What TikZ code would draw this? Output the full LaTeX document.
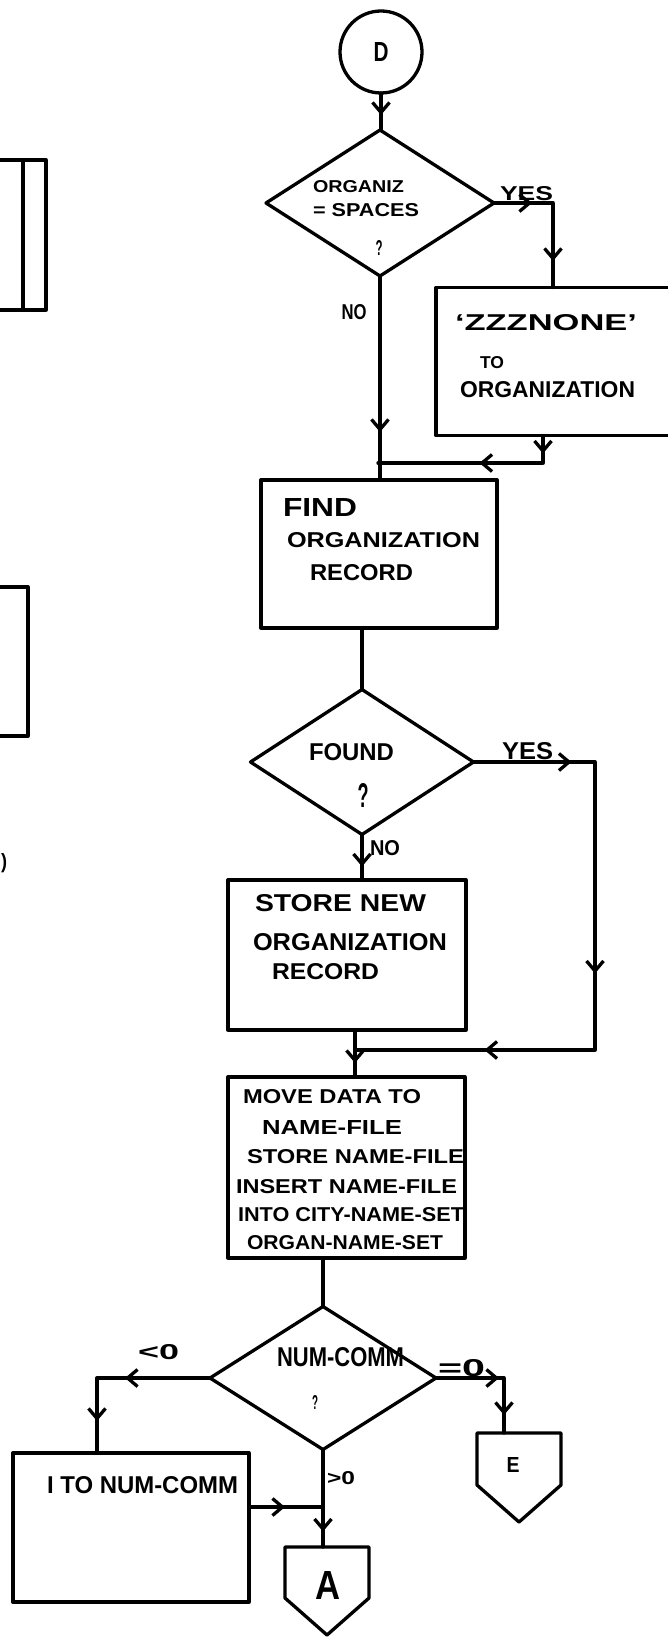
\documentclass[tikz,border=0pt]{standalone}
\usepackage{fontspec}
\setmainfont{Liberation Sans}
\usepackage{graphicx}
\usetikzlibrary{shapes.geometric,arrows.meta,decorations.markings}
\newcommand{\hwtext}[3]{\resizebox{#1pt}{#2pt}{\bfseries #3}}
\tikzset{
  shp/.style={draw, line width=3.3pt, inner sep=0pt, outer sep=0pt},
  txt/.style={inner sep=0pt, outer sep=0pt},
  barbtip/.tip={Straight Barb[length=10pt,width=17pt]},
  arrat/.style={postaction={decorate,decoration={markings,mark=at position #1 with {\arrow{barbtip}}}}},
  flow/.style={draw, line width=3.3pt},
}
\begin{document}
\begin{tikzpicture}[x=1pt,y=-1pt,line width=3.3pt,line join=round,line cap=round]
\useasboundingbox (0,0) rectangle (667,1637);

% left cut-off fragments
\draw (0,160) -- (46,160) -- (46,310) -- (0,310);
\draw (23,160) -- (23,310);
\draw (0,587) -- (28,587) -- (28,736) -- (0,736);
\node[txt] (frag) at (4,863) {\hwtext{6}{15}{)}};

% shapes
\node[shp, circle, minimum size=82pt] (D) at (381,52) {\hwtext{15}{19}{D}};
\node[shp, diamond, minimum width=228pt, minimum height=146pt] (d1) at (380,203) {};
\node[shp, rectangle, minimum width=254pt, minimum height=148pt] (b2) at (563,361.5) {};
\node[shp, rectangle, minimum width=236pt, minimum height=148pt] (b3) at (379,554) {};
\node[shp, diamond, minimum width=223pt, minimum height=145pt] (d2) at (362,762) {};
\node[shp, rectangle, minimum width=238pt, minimum height=150pt] (b4) at (347,955) {};
\node[shp, rectangle, minimum width=237pt, minimum height=181pt] (b5) at (346.5,1167.5) {};
\node[shp, diamond, minimum width=226pt, minimum height=143pt] (d3) at (323,1378) {};
\node[shp, rectangle, minimum width=236pt, minimum height=149pt] (b6) at (131,1527.5) {};
\node[txt, rectangle, minimum width=84pt, minimum height=51pt] (A) at (327,1572.5) {};
\node[txt, rectangle, minimum width=84pt, minimum height=52pt] (E) at (519,1459) {};
\draw (A.north west) -- (A.north east) -- (A.south east) -- ([yshift=-37pt]A.south) -- (A.south west) -- cycle;
\draw (E.north west) -- (E.north east) -- (E.south east) -- ([yshift=-37pt]E.south) -- (E.south west) -- cycle;

% texts
\node[txt, anchor=west] (t1a) at (313,187) {\hwtext{91}{12}{ORGANIZ}};
\node[txt, anchor=west] (t1b) at (313,210) {\hwtext{106}{13}{= SPACES}};
\node[txt] (t1c) at (379,248) {\hwtext{7}{15}{?}};
\node[txt, anchor=west] (t2a) at (455,323) {\hwtext{182}{16}{`ZZZNONE'}};
\node[txt, anchor=west] (t2b) at (480,363) {\hwtext{24}{12}{TO}};
\node[txt, anchor=west] (t2c) at (460,390) {\hwtext{175}{16}{ORGANIZATION}};
\node[txt, anchor=west] (t3a) at (283,507) {\hwtext{74}{18}{FIND}};
\node[txt, anchor=west] (t3b) at (287,540) {\hwtext{193}{15}{ORGANIZATION}};
\node[txt, anchor=west] (t3c) at (310,573) {\hwtext{103}{16}{RECORD}};
\node[txt, anchor=west] (t4a) at (309,752) {\hwtext{85}{17}{FOUND}};
\node[txt] (t4b) at (363,795) {\hwtext{11}{24}{?}};
\node[txt, anchor=west] (t5a) at (255,903) {\hwtext{171}{17}{STORE NEW}};
\node[txt, anchor=west] (t5b) at (253,942) {\hwtext{194}{17}{ORGANIZATION}};
\node[txt, anchor=west] (t5c) at (272,972) {\hwtext{107}{16}{RECORD}};
\node[txt, anchor=west] (t6a) at (243,1097) {\hwtext{178}{14}{MOVE DATA TO}};
\node[txt, anchor=west] (t6b) at (262,1127) {\hwtext{140}{14}{NAME-FILE}};
\node[txt, anchor=west] (t6c) at (247,1157) {\hwtext{217}{14}{STORE NAME-FILE}};
\node[txt, anchor=west] (t6d) at (236,1187) {\hwtext{221}{14}{INSERT NAME-FILE}};
\node[txt, anchor=west] (t6e) at (238,1215) {\hwtext{226}{14}{INTO CITY-NAME-SET}};
\node[txt, anchor=west] (t6f) at (247,1243) {\hwtext{196}{14}{ORGAN-NAME-SET}};
\node[txt, anchor=west] (t7a) at (277,1357) {\hwtext{127}{19}{NUM-COMM}};
\node[txt] (t7b) at (315,1402) {\hwtext{6}{14}{?}};
\node[txt, anchor=west] (t8a) at (47,1485) {\hwtext{191}{17}{I TO NUM-COMM}};
\node[txt] (tA) at (328,1585) {\hwtext{25}{28}{A}};
\node[txt] (tE) at (513,1465) {\hwtext{13}{15}{E}};

% branch labels
\node[txt, anchor=west] (lyes1) at (500,194) {\hwtext{53}{14}{YES}};
\node[txt] (lno1) at (354,312) {\hwtext{25}{15}{NO}};
\node[txt, anchor=west] (lyes2) at (502,751) {\hwtext{51}{17}{YES}};
\node[txt, anchor=west] (lno2) at (370,848) {\hwtext{30}{15}{NO}};
\node[txt, anchor=west] (llt) at (138,1352) {\hwtext{41}{15}{<0}};
\node[txt, anchor=west] (leq) at (438,1368) {\hwtext{47}{17}{=0}};
\node[txt, anchor=west] (lgt) at (327,1478) {\hwtext{28}{13}{>0}};

% junction coordinates
\path (d1.east) ++(59,0) coordinate (y1);
\coordinate (j1) at (378,463);
\coordinate (y2) at (595,762);
\coordinate (j2) at (355,1050);
\coordinate (l3) at (97,1378);
\coordinate (r3) at (504,1378);
\coordinate (j3) at (323,1507);

% connectors
\draw[flow, arrat=22pt] (D.south) -- (D.south |- d1.north);
\draw[flow, arrat=38pt, arrat=117pt] (d1.east) -- (y1) -- (y1 |- b2.north);
\draw[flow, arrat=156pt] (d1.south) -- (d1.south |- b3.north);
\draw[flow, arrat=18pt, arrat=91pt] ([xshift=-20pt]b2.south) |- (j1);
\draw[flow] (d2.north |- b3.south) -- (d2.north);
\draw[flow, arrat=98pt, arrat=333pt, arrat=520pt] (d2.east) -- (y2) -- (y2 |- j2) -- (j2);
\draw[flow, arrat=32pt] (d2.south) -- (d2.south |- b4.north);
\draw[flow, arrat=33pt] (j2 |- b4.south) -- (j2 |- b5.north);
\draw[flow] (d3.north |- b5.south) -- (d3.north);
\draw[flow, arrat=85pt, arrat=156pt] (d3.west) -- (l3) -- (l3 |- b6.north);
\draw[flow, arrat=63pt, arrat=105pt] (d3.east) -- (r3) -- (r3 |- E.north);
\draw[flow, arrat=82pt] (d3.south) -- (d3.south |- A.north);
\draw[flow, arrat=36pt] (b6.east |- j3) -- (j3);
\end{tikzpicture}
\end{document}
